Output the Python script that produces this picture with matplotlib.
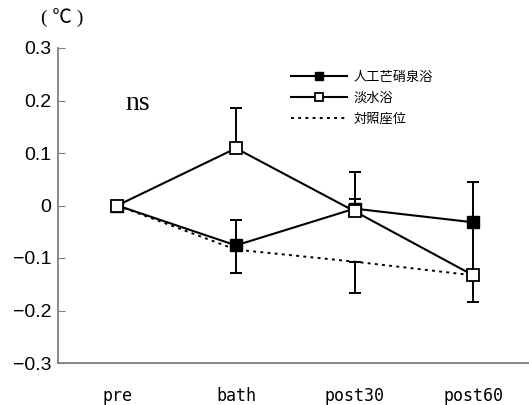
import matplotlib
matplotlib.use('Agg')
import matplotlib.pyplot as plt

# data
labels = ['pre', 'bath', 'post30', 'post60']
artificial = [0.0, -0.076, -0.006, -0.032]      # 人工芒硝泉浴
artificial_err = [0.0, 0.048, 0.019, 0.076]     # upper only
fresh = [0.0, 0.109, -0.011, -0.133]            # 淡水浴
fresh_err = [0.0, 0.076, 0.074, 0.10]           # upper only
control = [0.0, -0.084, -0.107, -0.133]         # 対照座位
control_err = [0.0, 0.044, 0.059, 0.050]        # lower only

x = list(range(len(labels)))
zeros = [0.0] * len(labels)

fig = plt.figure(figsize=(5.29, 4.05), dpi=100)
ax = fig.add_axes([58 / 529, 42 / 405, 471 / 529, 315 / 405])

eb = dict(fmt='none', ecolor='black', elinewidth=1.4, capsize=4.5, capthick=1.4, zorder=2)
ax.errorbar(x, control, yerr=[control_err, zeros], **eb)
ax.errorbar(x, artificial, yerr=[zeros, artificial_err], **eb)
ax.errorbar(x, fresh, yerr=[zeros, fresh_err], **eb)

ax.plot(x, artificial, color='black', lw=1.5, marker='s', ms=9,
        mfc='black', mec='black', label='人工芒硝泉浴', zorder=4)
ax.plot(x, fresh, color='black', lw=1.5, marker='s', ms=9,
        mfc='white', mec='black', mew=1.3, label='淡水浴', zorder=5)
ax.plot(x, control, color='black', lw=1.4, linestyle=(0, (1.5, 2.2)),
        label='対照座位', zorder=3)

ax.set_xlim(-0.5, 3.47)
ax.set_ylim(-0.3, 0.3)
ax.set_yticks([-0.3, -0.2, -0.1, 0, 0.1, 0.2, 0.3])
ax.set_yticklabels(['−0.3', '−0.2', '−0.1', '0', '0.1', '0.2', '0.3'],
                   family='Liberation Sans', fontsize=14)
ax.set_xticks(x)
ax.set_xticklabels(labels, family='DejaVu Sans Mono', fontsize=12)
ax.tick_params(axis='x', length=0, pad=17)
ax.tick_params(axis='y', direction='in', length=5, color='#808080', pad=5)
for s in ['top', 'right']:
    ax.spines[s].set_visible(False)
for s in ['left', 'bottom']:
    ax.spines[s].set_color('#808080')
    ax.spines[s].set_linewidth(1.3)

ax.legend(loc='upper left', bbox_to_anchor=(0.47, 0.965), frameon=False,
          prop={'family': 'Noto Sans CJK JP', 'size': 9.5},
          handlelength=4.2, markerscale=0.7, labelspacing=0.6,
          handletextpad=0.5)

ax.text(0.17, 0.194, 'ns', family='Liberation Serif', fontsize=20,
        ha='center', va='center')
fig.text(62 / 529, 1 - 18 / 405, '( ℃ )', family=['Liberation Serif', 'Noto Sans CJK JP'],
         fontsize=14, ha='center', va='center')

fig.savefig('out.png', dpi=100, facecolor='white')
